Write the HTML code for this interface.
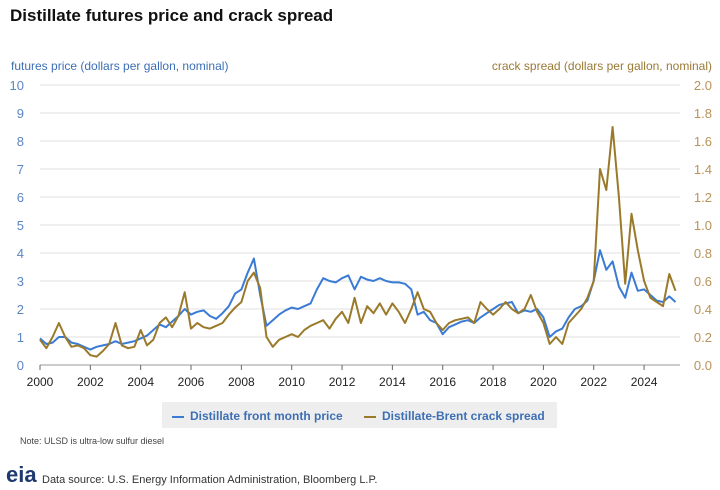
<!DOCTYPE html>
<html><head><meta charset="utf-8"><style>
body{margin:0;background:#fff;font-family:"Liberation Sans",sans-serif;}
#wrap{position:relative;width:720px;height:490px;overflow:hidden;}
.t{position:absolute;white-space:nowrap;}
</style></head><body>
<div id="wrap">
<div class="t" style="left:10px;top:6px;font-size:17px;font-weight:bold;color:#111;">Distillate futures price and crack spread</div>
<div class="t" style="left:11px;top:59px;font-size:12px;color:#3d6fb5;">futures price (dollars per gallon, nominal)</div>
<div class="t" style="right:8px;top:59px;font-size:12px;color:#9a7a35;">crack spread (dollars per gallon, nominal)</div>
<svg id="svg" width="720" height="490" style="position:absolute;left:0;top:0"></svg>
<div style="position:absolute;left:162px;top:402px;width:395px;height:26px;background:#eeeeee;"></div>
<div class="t" style="left:172px;top:409px;font-size:12px;color:#3d6fb5;font-weight:bold;"><span style="display:inline-block;width:12px;height:2px;background:#3a7bd5;vertical-align:middle;margin-right:6px;"></span>Distillate front month price</div>
<div class="t" style="left:364px;top:409px;font-size:12px;color:#3d6fb5;font-weight:bold;"><span style="display:inline-block;width:12px;height:2px;background:#9a7a2a;vertical-align:middle;margin-right:6px;"></span>Distillate-Brent crack spread</div>
<div class="t" style="left:20px;top:436px;font-size:9px;color:#444;">Note: ULSD is ultra-low sulfur diesel</div>
<div class="t" style="left:6px;top:462px;font-size:22px;font-weight:bold;color:#1e3a6e;">eia</div>
<div class="t" style="left:42px;top:474px;font-size:11px;color:#333;">Data source: U.S. Energy Information Administration, Bloomberg L.P.</div>
</div>
<script>
const leftTicks=[0,1,2,3,4,5,6,7,8,9,10];
const rightTicks=["0.0","0.2","0.4","0.6","0.8","1.0","1.2","1.4","1.6","1.8","2.0"];
const yearTicks=[2000,2002,2004,2006,2008,2010,2012,2014,2016,2018,2020,2022,2024];
const startYear=2000;
const priceValues=[0.95,0.75,0.8,1.0,1.0,0.8,0.75,0.65,0.55,0.65,0.7,0.75,0.85,0.75,0.8,0.85,0.95,1.05,1.25,1.45,1.35,1.55,1.75,2.0,1.8,1.9,1.95,1.75,1.65,1.85,2.1,2.55,2.7,3.3,3.8,2.5,1.4,1.6,1.8,1.95,2.05,2.0,2.1,2.2,2.7,3.1,3.0,2.95,3.1,3.2,2.7,3.15,3.05,3.0,3.1,3.0,2.95,2.95,2.9,2.7,1.8,1.9,1.6,1.5,1.1,1.35,1.45,1.55,1.6,1.5,1.7,1.85,2.0,2.15,2.2,2.25,1.85,1.95,1.9,2.0,1.7,1.0,1.2,1.3,1.7,2.0,2.1,2.3,3.0,4.1,3.4,3.7,2.8,2.4,3.3,2.65,2.7,2.5,2.3,2.25,2.45,2.25];
const crackValues=[0.18,0.12,0.2,0.3,0.2,0.13,0.14,0.12,0.07,0.06,0.1,0.15,0.3,0.14,0.12,0.13,0.25,0.14,0.18,0.3,0.34,0.27,0.35,0.52,0.26,0.3,0.27,0.26,0.28,0.3,0.36,0.41,0.45,0.6,0.66,0.55,0.2,0.13,0.18,0.2,0.22,0.2,0.25,0.28,0.3,0.32,0.26,0.33,0.38,0.3,0.48,0.3,0.42,0.37,0.44,0.36,0.44,0.38,0.3,0.4,0.52,0.4,0.38,0.3,0.25,0.3,0.32,0.33,0.34,0.3,0.45,0.4,0.36,0.4,0.45,0.4,0.37,0.4,0.5,0.38,0.3,0.15,0.2,0.15,0.3,0.35,0.4,0.48,0.6,1.4,1.25,1.7,1.2,0.58,1.08,0.82,0.6,0.48,0.45,0.42,0.65,0.53];
const NS="http://www.w3.org/2000/svg";
const svg=document.getElementById('svg');
const x0=40,pxYear=25.17,yb=365,yt=85,xr=680;
const xs=t=>x0+(t-startYear)*pxYear;
const yl=v=>yb-(v/10)*(yb-yt);
const yr=v=>yb-(v/2)*(yb-yt);
function mk(tag,attrs){const e=document.createElementNS(NS,tag);for(const k in attrs)e.setAttribute(k,attrs[k]);svg.appendChild(e);return e;}
leftTicks.forEach((v,i)=>{
 const g=mk('line',{x1:x0,x2:xr,y1:yl(v),y2:yl(v),stroke:v===0?'#999':'#e0e0e0','stroke-width':1});
 
 
 const t=mk('text',{x:24,y:yl(v)+5,'text-anchor':'end','font-size':13,fill:'#5b86c2','font-family':'Liberation Sans'});
 t.textContent=v;
 
 
 const r=mk('text',{x:712,y:yl(v)+5,'text-anchor':'end','font-size':13,fill:'#b8925a','font-family':'Liberation Sans'});
 r.textContent=rightTicks[i];
 
 
});
yearTicks.forEach(y=>{
 const l=mk('line',{x1:xs(y),x2:xs(y),y1:yb,y2:yb+5,stroke:'#666'});
 
 
 const t=mk('text',{x:xs(y),y:yb+21,'text-anchor':'middle','font-size':12,fill:'#222','font-family':'Liberation Sans'});
 t.textContent=y;
 
 
});
function line(vals,yf,col){
 const d=vals.map((v,i)=>(i?'L':'M')+xs(startYear+i/4).toFixed(1)+','+yf(v).toFixed(1)).join('');
 return mk('path',{d:d,fill:'none',stroke:col,'stroke-width':2,'stroke-linejoin':'round'});
}
const p=line(priceValues,yl,'#3a7bd5');


const c=line(crackValues,yr,'#9a7a2a');


</script>
</body></html>
